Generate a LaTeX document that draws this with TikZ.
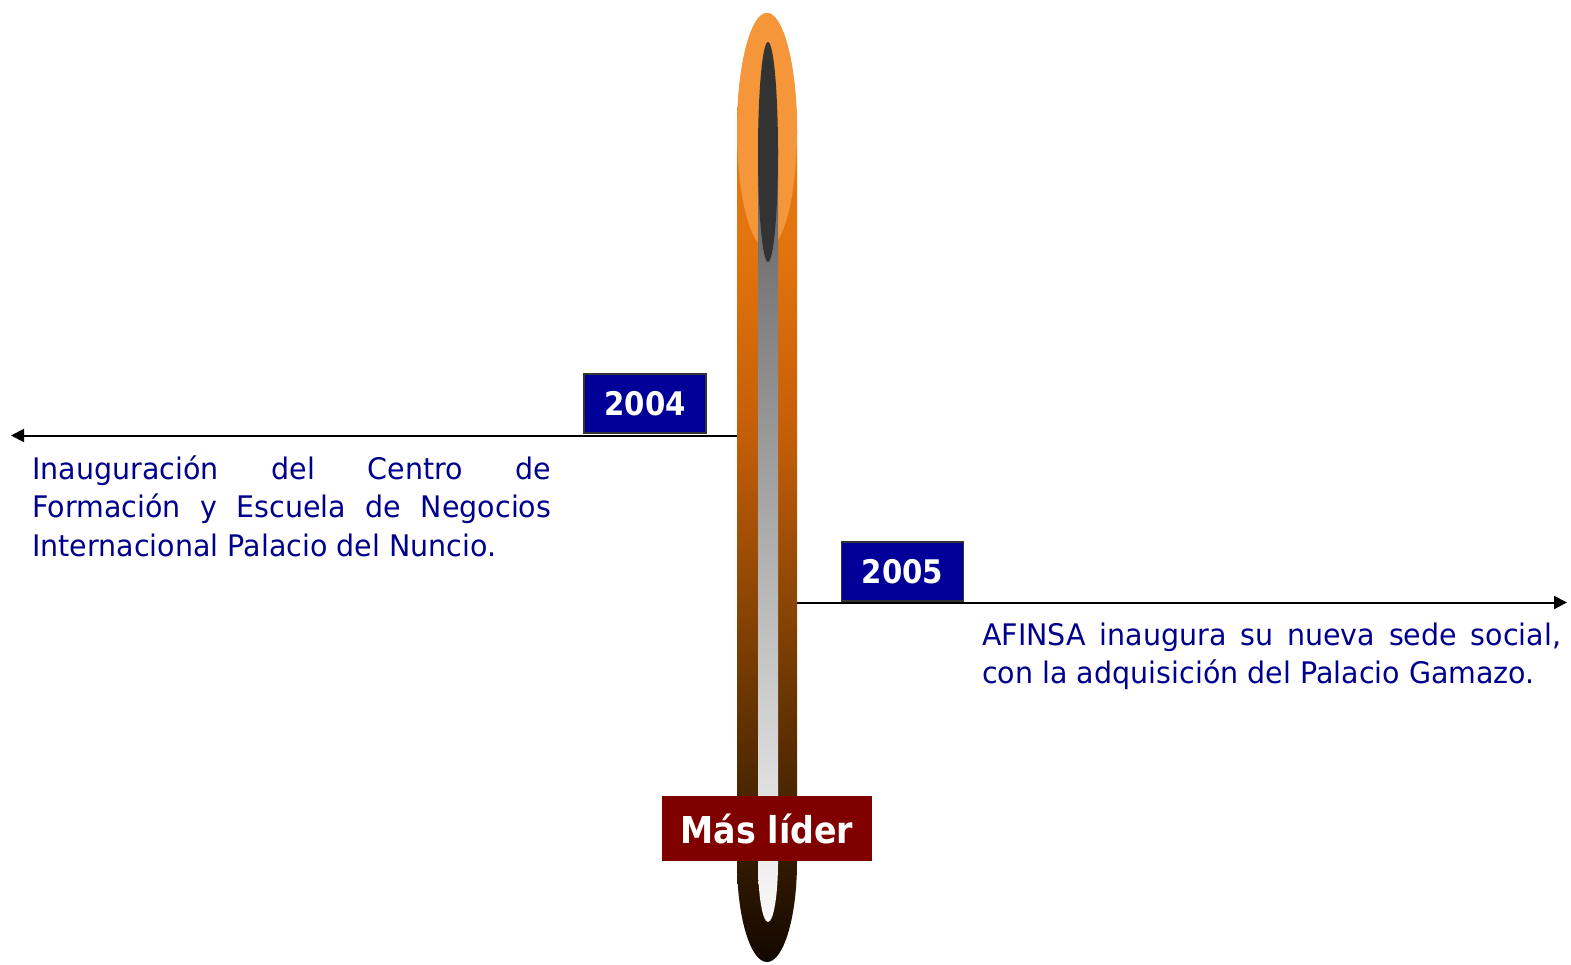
\documentclass[tikz,border=0pt]{standalone}
\usepackage{fontspec}
\newfontfamily\tahreg[FakeStretch=0.96]{DejaVu Sans}
\newfontfamily\tahbold[FakeStretch=0.9]{DejaVu Sans}
\usetikzlibrary{arrows.meta}
\definecolor{pb0}{RGB}{18,8,0}
\definecolor{pb1}{RGB}{85,43,0}
\definecolor{pb2}{RGB}{140,70,4}
\definecolor{pb3}{RGB}{195,93,8}
\definecolor{pb4}{RGB}{226,116,14}
\definecolor{pb5}{RGB}{236,124,20}
\definecolor{hilite}{RGB}{245,150,58}
\definecolor{darkcore}{RGB}{51,51,51}
\definecolor{yearblue}{RGB}{0,0,153}
\definecolor{textblue}{RGB}{0,0,140}
\definecolor{leaderred}{RGB}{128,0,0}
\pgfdeclareverticalshading{pillshade}{100bp}{color(0bp)=(pb0); color(25bp)=(pb0); color(35.6bp)=(pb1); color(44.1bp)=(pb2); color(52.5bp)=(pb3); color(62.5bp)=(pb4); color(75bp)=(pb5); color(100bp)=(pb5)}
\tikzset{
  yearbox/.style={draw=darkcore, line width=1.2pt, fill=yearblue, text=white, inner sep=0pt,
    minimum width=122pt, minimum height=59pt, font=\tahbold\bfseries\fontsize{32.5}{38}\selectfont},
  leaderbox/.style={fill=leaderred, text=white, inner sep=0pt, minimum width=210pt, minimum height=65pt,
    font=\tahbold\bfseries\fontsize{37}{44}\selectfont},
  desc/.style={text=textblue, inner sep=0pt, anchor=base west, font=\tahreg\fontsize{29.7}{38.5}\selectfont},
  timeline/.style={line width=2pt, black, -{Triangle[length=13pt,width=13pt]}}
}
\begin{document}
\begin{tikzpicture}[x=1pt,y=-1pt]
\useasboundingbox (0,0) rectangle (1571,964);
% connectors
\coordinate (a1) at (737,435.5);
\coordinate (a1end) at (11,435.5);
\coordinate (a2) at (797,602.5);
\coordinate (a2end) at (1567,602.5);
\draw[timeline] (a1) -- (a1end);
\draw[timeline] (a2) -- (a2end);
% pill
\shade[shading=pillshade] (737,133) -- (737,862) arc[start angle=180, end angle=360, x radius=30pt, y radius=100pt]
  -- (797,133) arc[start angle=0, end angle=180, x radius=30pt, y radius=120pt] -- cycle;
\fill[hilite] (767,130.5) ellipse[x radius=30pt, y radius=117.5pt];
\shade[top color={rgb,255:red,96;green,96;blue,96}, middle color={rgb,255:red,196;green,196;blue,196}, bottom color={rgb,255:red,250;green,250;blue,250}]
  (758,150) -- (758,862) arc[start angle=180, end angle=360, x radius=10pt, y radius=60pt] -- (778,150) -- cycle;
\fill[darkcore] (768,152) ellipse[x radius=10pt, y radius=110pt];
% year boxes
\node[yearbox] (y2004) at (645,403.5) {2004};
\node[yearbox] (y2005) at (902.5,571.5) {2005};
% leader box
\node[leaderbox] (lider) at (767,828.5) {Más líder};
% texts
\node[desc] (l1) at (32,479) {\makebox[519pt][s]{Inauguración del Centro de}};
\node[desc] (l2) at (32,517.5) {\makebox[519pt][s]{Formación y Escuela de Negocios}};
\node[desc] (l3) at (32,556) {Internacional Palacio del Nuncio.};
\node[desc] (r1) at (982,645) {\makebox[579pt][s]{AFINSA inaugura su nueva sede social,}};
\node[desc] (r2) at (982,683) {con la adquisición del Palacio Gamazo.};
\end{tikzpicture}
\end{document}
